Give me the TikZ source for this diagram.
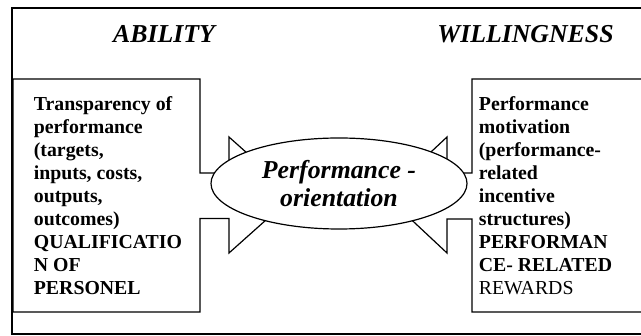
\documentclass[tikz,border=0pt]{standalone}
\usepackage{fontspec}
\setmainfont{Liberation Serif}
\usetikzlibrary{shapes.geometric}
\begin{document}
\begin{tikzpicture}[x=1pt,y=-1pt, line width=1.2pt, line join=miter]
\useasboundingbox (0,0) rectangle (641,336);
\tikzset{
 head/.style={font=\fontsize{25.8}{29}\selectfont\bfseries\itshape, inner sep=0, anchor=base},
 body/.style={font=\fontsize{19.8}{22.9}\selectfont\bfseries, inner sep=0, anchor=north west, align=left},
 frame/.style={draw, line width=1.3pt},
 callout/.style={draw, fill=white, line width=1.2pt},
}
% outer frame
\draw[frame] (12,8) rectangle (650,334);
% headings
\node[head] (ability) at (164,43) {ABILITY};
\node[head] (willing) at (525.5,43) {WILLINGNESS};
% left arrow callout
\draw[callout] (13,79) -- (200,79) -- (200,173) -- (229,173) -- (229,137) -- (294,195)
  -- (229,253) -- (229,218.5) -- (200,218.5) -- (200,312) -- (13,312) -- cycle;
% right arrow callout
\draw[callout] (660,79) -- (472,79) -- (472,173) -- (447,173) -- (447,137) -- (385,195)
  -- (447,253) -- (447,219) -- (472,219) -- (472,312) -- (660,312);
% texts
\node[body] (lefttext) at (33.3,96.3) {Transparency of\\performance\\(targets,\\inputs, costs,\\outputs,\\outcomes)\\QUALIFICATIO\\N OF\\PERSONEL};
\node[body] (righttext) at (478.3,96.3) {Performance\\motivation\\(performance-\\related\\incentive\\structures)\\PERFORMAN\\CE- RELATED\\\mdseries REWARDS};
% central ellipse
\node[draw, ellipse, fill=white, line width=1.2pt, minimum width=256pt, minimum height=91pt, inner sep=0,
  align=center, font=\fontsize{25.8}{28.5}\selectfont\bfseries\itshape] (po) at (339,183.5) {Performance -\\orientation};
\end{tikzpicture}
\end{document}
